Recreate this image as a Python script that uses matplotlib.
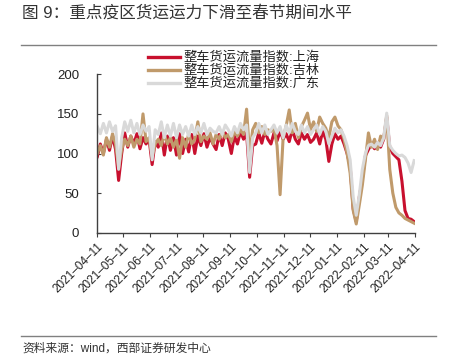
"""图9 整车货运流量指数（上海 / 吉林 / 广东）."""

import matplotlib

matplotlib.use("Agg")
import matplotlib.pyplot as plt
import matplotlib.dates as mdates
import pandas as pd
from matplotlib.lines import Line2D

plt.rcParams["font.family"] = ["Liberation Sans", "Noto Sans CJK SC", "DejaVu Sans"]

# half-week samples, 2021-04-11 .. 2022-04-10
DATES = pd.date_range("2021-04-11", periods=105, freq="84h")

SHANGHAI = [
    96, 112, 100, 118, 104, 122, 105, 66, 100, 126,
    108, 122, 112, 125, 106, 120, 112, 118, 86, 115,
    108, 126, 98, 122, 104, 120, 98, 125, 100, 118,
    102, 124, 100, 122, 110, 125, 108, 120, 112, 105,
    124, 110, 126, 118, 100, 122, 112, 128, 118, 126,
    70, 110, 112, 126, 113, 128, 118, 112, 126, 116,
    128, 118, 125, 115, 130, 118, 112, 126, 118, 124,
    114, 118, 126, 112, 128, 118, 90, 112, 125, 118,
    122, 112, 100, 84, 30, 14, 45, 68, 97, 105,
    112, 106, 114, 108, 118, 146, 108, 100, 96, 92,
    65, 28, 18, 17, 14,
]
JILIN = [
    100, 110, 98, 120, 108, 125, 112, 82, 105, 118,
    110, 122, 108, 118, 112, 150, 115, 120, 96, 112,
    118, 110, 124, 112, 120, 108, 118, 94, 120, 108,
    125, 112, 118, 140, 115, 122, 118, 126, 112, 124,
    118, 128, 120, 124, 115, 128, 122, 130, 124, 156,
    98, 130, 138, 126, 134, 124, 130, 128, 132, 110,
    48, 120, 135, 155, 126, 138, 120, 134, 142, 151,
    130, 140, 128, 146, 138, 132, 120, 140, 146, 135,
    130, 118, 100, 75, 28, 11, 35, 60, 92, 126,
    108, 118, 105, 122, 118, 148, 80, 50, 32, 25,
    22, 18, 16, 14, 12,
]
GUANGDONG = [
    134, 125, 138, 126, 140, 128, 135, 80, 120, 140,
    128, 142, 126, 138, 124, 136, 128, 134, 92, 130,
    124, 140, 120, 136, 122, 138, 120, 136, 124, 134,
    122, 136, 124, 134, 126, 138, 124, 132, 128, 126,
    134, 124, 136, 130, 122, 134, 126, 138, 130, 136,
    76, 120, 126, 138, 126, 136, 124, 130, 136, 126,
    134, 120, 136, 126, 138, 128, 124, 136, 126, 134,
    124, 130, 136, 124, 134, 128, 112, 122, 132, 126,
    130, 122, 110, 92, 45, 22, 48, 80, 100, 110,
    112, 108, 114, 110, 120, 151, 110, 104, 100, 97,
    98, 95, 88, 76, 91,
]

SERIES = [
    ("整车货运流量指数:上海", SHANGHAI, "#C8102E"),
    ("整车货运流量指数:吉林", JILIN, "#C09A6B"),
    ("整车货运流量指数:广东", GUANGDONG, "#D9D9D9"),
]

TICKS = pd.to_datetime([
    "2021-04-11", "2021-05-11", "2021-06-11", "2021-07-11", "2021-08-11",
    "2021-09-11", "2021-10-11", "2021-11-11", "2021-12-11", "2022-01-11",
    "2022-02-11", "2022-03-11", "2022-04-11",
])
Y_TICKS = [0, 50, 100, 150, 200]

W, H = 453, 361
fig = plt.figure(figsize=(W / 100, H / 100), dpi=100)
ax = fig.add_axes([97.3 / W, 1 - 232.7 / H, (415 - 97.3) / W, (232.7 - 74.3) / H])

for label, vals, color in SERIES:
    ax.plot(DATES, vals, color=color, lw=2.2, label=label, solid_joinstyle="round")

ax.set_xlim(TICKS[0], TICKS[-1])
ax.set_ylim(0, 200)
ax.set_yticks(Y_TICKS)
ax.set_xticks(TICKS)
ax.xaxis.set_major_formatter(mdates.DateFormatter("%Y–%m–%d"))

for side in ("top", "right"):
    ax.spines[side].set_visible(False)
for side in ("left", "bottom"):
    ax.spines[side].set_color("#404040")
    ax.spines[side].set_linewidth(1.0)

ax.tick_params(axis="y", direction="in", length=3, pad=13, labelsize=9.5,
               color="#404040", labelcolor="#222222")
ax.tick_params(axis="x", direction="out", length=3, pad=3, labelsize=8.5,
               color="#404040", labelcolor="#222222")
for t in ax.get_xticklabels():
    t.set_rotation(45)
    t.set_ha("right")
    t.set_va("top")
    t.set_rotation_mode("anchor")

# legend drawn by hand: three stacked rows, tight spacing like the original
for k, (label, _, color) in enumerate(SERIES):
    y = 1 - (57 + 13 * k) / H
    fig.add_artist(Line2D([148 / W, 180 / W], [y, y], color=color, lw=2.4))
    fig.text(183 / W, y, label, fontsize=9.5, color="#222222", va="center", ha="left")

fig.text(22 / W, 1 - 13 / H, "图 9：重点疫区货运运力下滑至春节期间水平",
         fontsize=12, color="#333333", va="center", ha="left")
fig.add_artist(Line2D([21 / W, 436 / W], [1 - 45 / H] * 2, color="#808080", lw=1.0))
fig.add_artist(Line2D([21 / W, 436 / W], [1 - 336 / H] * 2, color="#808080", lw=1.0))
fig.text(22 / W, 1 - 348.5 / H, "资料来源：wind，西部证券研发中心",
         fontsize=8.5, color="#333333", va="center", ha="left")

fig.savefig("out.png", dpi=100)
